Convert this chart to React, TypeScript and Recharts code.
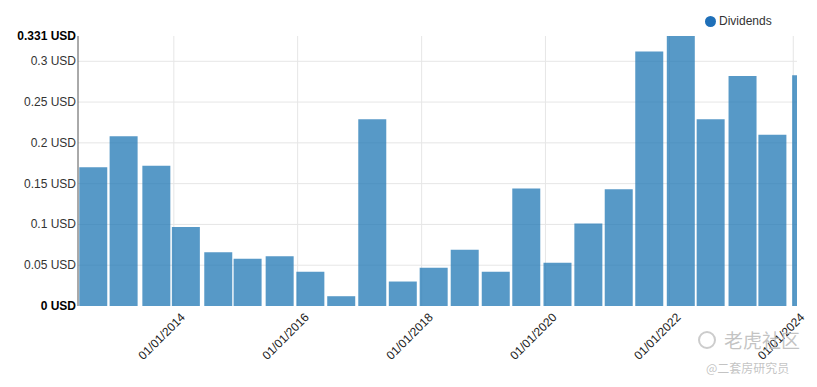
import { BarChart, Bar, XAxis, YAxis, CartesianGrid } from 'recharts';

// ex-dividend dates and amounts (USD)
const dates = [
  '2012-09-11', '2013-03-09', '2013-09-18', '2014-03-11', '2014-09-18', '2015-03-10',
  '2015-09-15', '2016-03-14', '2016-09-12', '2017-03-14', '2017-09-10', '2018-03-11',
  '2018-09-10', '2019-03-12', '2019-09-08', '2020-03-10', '2020-09-08', '2021-03-06',
  '2021-09-02', '2022-03-07', '2022-08-30', '2023-03-06', '2023-08-29', '2024-03-15',
];
const dividends = [
  0.17, 0.208, 0.172, 0.097, 0.066, 0.058,
  0.061, 0.042, 0.012, 0.229, 0.03, 0.047,
  0.069, 0.042, 0.144, 0.053, 0.101, 0.143,
  0.312, 0.331, 0.229, 0.282, 0.21, 0.283,
];
const xTickDates = ['2014-01-01', '2016-01-01', '2018-01-01', '2020-01-01', '2022-01-01', '2024-01-01'];
const xDomainDates = ['2012-06-15', '2024-01-23'];
const yTicks = [0, 0.05, 0.1, 0.15, 0.2, 0.25, 0.3, 0.331];
const boldTicks = [0, 0.331];

const ts = (d: string) => new Date(d + 'T00:00:00Z').getTime();

const data = dates.map((d, i) => ({ t: ts(d), value: dividends[i] }));
const xTicks = xTickDates.map(ts);
const xDomain = xDomainDates.map(ts);

const font = 'Arial, "Liberation Sans", sans-serif';

function fmtDate(v: number) {
  const d = new Date(v);
  const mm = String(d.getUTCMonth() + 1).padStart(2, '0');
  const dd = String(d.getUTCDate()).padStart(2, '0');
  return `${mm}/${dd}/${d.getUTCFullYear()}`;
}

function XTick(props: any) {
  const { x, y, payload } = props;
  const tx = x + 12;
  const ty = y + 12;
  return (
    <text
      x={tx}
      y={ty}
      textAnchor="end"
      fontSize={12}
      fontFamily={font}
      fill="#222"
      transform={`rotate(-45, ${tx}, ${ty})`}
    >
      {fmtDate(payload.value)}
    </text>
  );
}

function YTick(props: any) {
  const { x, y, payload } = props;
  const bold = boldTicks.includes(payload.value);
  return (
    <text
      x={x}
      y={y}
      dy={4}
      textAnchor="end"
      fontSize={12}
      fontFamily={font}
      fontWeight={bold ? 'bold' : 'normal'}
      fill={bold ? '#000' : '#333'}
    >
      {payload.value} USD
    </text>
  );
}

export default function App() {
  return (
    <div style={{ position: 'relative', width: 801, height: 371, fontFamily: font }}>
      <BarChart
        width={801}
        height={371}
        data={data}
        margin={{ top: 28, right: 12, bottom: 13, left: 0 }}
      >
        <CartesianGrid
          stroke="#e6e6e6"
          horizontalValues={[0.05, 0.1, 0.15, 0.2, 0.25, 0.3]}
          verticalValues={xTicks}
        />
        <XAxis
          dataKey="t"
          type="number"
          scale="time"
          domain={xDomain}
          ticks={xTicks}
          allowDataOverflow
          axisLine={false}
          tickLine={false}
          tickSize={0}
          tickMargin={0}
          height={60}
          interval={0}
          tick={<XTick />}
        />
        <YAxis
          type="number"
          domain={[0, 0.331]}
          ticks={yTicks}
          width={70}
          axisLine={{ stroke: '#555' }}
          tickLine={false}
          tickSize={0}
          tickMargin={2}
          interval={0}
          tick={<YTick />}
        />
        <Bar
          dataKey="value"
          barSize={28}
          fill="#1f77b4"
          fillOpacity={0.75}
          isAnimationActive={false}
        />
      </BarChart>
      <div
        style={{
          position: 'absolute',
          left: 697,
          top: 6,
          display: 'flex',
          alignItems: 'center',
          fontSize: 12,
          color: '#333',
          whiteSpace: 'nowrap',
        }}
      >
        <span
          style={{
            display: 'inline-block',
            width: 11,
            height: 11,
            borderRadius: '50%',
            background: '#1f6fb8',
            marginRight: 3,
          }}
        />
        Dividends
      </div>
      <div
        style={{
          position: 'absolute',
          left: 690,
          top: 320,
          width: 105,
          whiteSpace: 'nowrap',
          pointerEvents: 'none',
          color: 'rgba(185,185,185,0.85)',
          fontFamily: '"Noto Sans CJK SC", sans-serif',
        }}
      >
        <div style={{ display: 'flex', alignItems: 'center', fontSize: 19, lineHeight: '24px' }}>
          <span
            style={{
              display: 'inline-block',
              width: 14,
              height: 14,
              borderRadius: '50%',
              border: '2px solid rgba(195,195,195,0.85)',
              marginRight: 8,
            }}
          />
          老虎社区
        </div>
        <div style={{ fontSize: 12, lineHeight: '16px', marginTop: 8, marginLeft: 8 }}>@二套房研究员</div>
      </div>
    </div>
  );
}
